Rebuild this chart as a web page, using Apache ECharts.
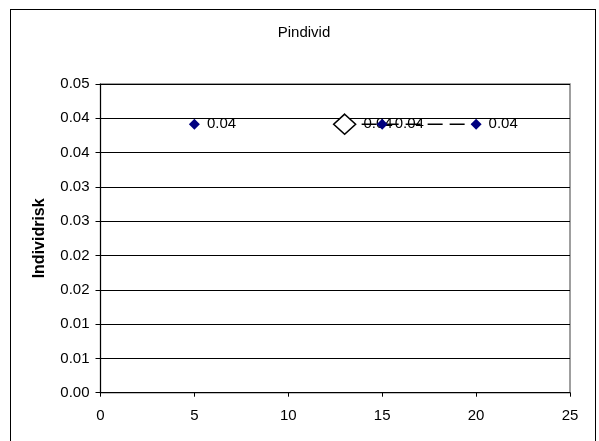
<!DOCTYPE html>
<html>
<head>
<meta charset="utf-8">
<script src="https://cdn.jsdelivr.net/npm/echarts@6/dist/echarts.min.js"></script>
<style>
html,body{margin:0;padding:0;background:#fff;}
#frame{position:absolute;left:10px;top:9px;width:586px;height:440px;border:1.5px solid #000;box-sizing:border-box;}
#chart{position:absolute;left:0;top:0;width:599px;height:441px;}
</style>
</head>
<body>
<div id="frame"></div>
<div id="chart"></div>
<script>
// Data
const titleText = 'Pindivid';
const yAxisTitle = 'Individrisk';
const pointX = [5, 15, 20];
const pointY = [0.0435, 0.0435, 0.0435];
const highlightX = [13];
const highlightY = [0.0435];
const lineX = [13, 20];
const lineY = [0.0435, 0.0435];
const xMin = 0, xMax = 25, xStep = 5;
const yMin = 0, yMax = 0.05, ySteps = 9;

const font = 'Liberation Sans, Arial, sans-serif';
const chart = echarts.init(document.getElementById('chart'));
const fmt = v => v.toFixed(2);

chart.setOption({
  animation: false,
  backgroundColor: 'transparent',
  title: {
    text: titleText, left: 299, top: 20, textAlign: 'center',
    textStyle: {fontFamily: font, fontSize: 15, fontWeight: 'normal', color: '#000'}
  },
  grid: {left: 100.5, right: 29, top: 84, bottom: 48.3, show: true,
         borderColor: '#808080', borderWidth: 1.5, backgroundColor: 'transparent'},
  xAxis: {
    type: 'value', min: xMin, max: xMax, interval: xStep,
    axisLine: {onZero: false, lineStyle: {color: '#000', width: 1}},
    axisTick: {show: true, length: 4, lineStyle: {color: '#000'}},
    splitLine: {show: false},
    axisLabel: {fontFamily: font, fontSize: 15, color: '#000', margin: 16}
  },
  yAxis: {
    type: 'value', min: yMin, max: yMax, interval: (yMax - yMin) / ySteps,
    name: yAxisTitle, nameLocation: 'middle', nameGap: 53,
    nameTextStyle: {fontFamily: font, fontSize: 16, fontWeight: 'bold', color: '#000'},
    axisLine: {show: true, lineStyle: {color: '#000', width: 1}},
    axisTick: {show: true, length: 5, lineStyle: {color: '#000'}},
    splitLine: {show: true, lineStyle: {color: '#000', width: 1}},
    axisLabel: {fontFamily: font, fontSize: 15, color: '#000', margin: 11, formatter: fmt}
  },
  series: [
    {
      type: 'line', data: lineX.map((x, i) => [x, lineY[i]]),
      symbol: 'none', lineStyle: {color: '#000', width: 1.5, type: [15, 7], dashOffset: 5, opacity: 1}, z: 1
    },
    {
      type: 'scatter', data: pointX.map((x, i) => [x, pointY[i]]),
      symbol: 'diamond', symbolSize: [11, 11],
      itemStyle: {color: '#000080', opacity: 1},
      label: {show: true, position: 'right', distance: 7, formatter: p => fmt(p.value[1]),
              fontFamily: font, fontSize: 15, color: '#000'}, z: 3
    },
    {
      type: 'scatter', data: highlightX.map((x, i) => [x, highlightY[i]]),
      symbol: 'diamond', symbolSize: [22, 20],
      itemStyle: {color: '#fff', borderColor: '#000', borderWidth: 1.5, opacity: 1},
      label: {show: true, position: 'right', distance: 7, formatter: p => fmt(p.value[1]),
              fontFamily: font, fontSize: 15, color: '#000'}, z: 2
    }
  ]
});
</script>
</body>
</html>
